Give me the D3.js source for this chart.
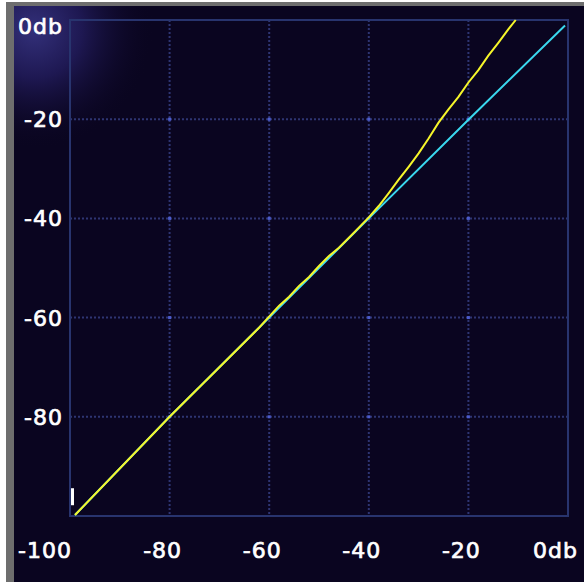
<!DOCTYPE html>
<html>
<head>
<meta charset="utf-8">
<script src="https://cdn.jsdelivr.net/npm/d3@7"></script>
<style>
  html, body { margin: 0; padding: 0; background: #fff; }
  svg { display: block; }
  text { font-family: "DejaVu Sans", sans-serif; font-size: 22px; letter-spacing: 1px; fill: #fff; stroke: #fff; stroke-width: 0.7px; }
</style>
</head>
<body>
<svg id="chart"></svg>
<script>
// Tick values (dB)
const gridTicks = [-80, -60, -40, -20];
const xTickValues = [-100, -80, -60, -40, -20, 0];
const xTickLabels = ["-100", "-80", "-60", "-40", "-20", "0db"];
const yTickValues = [0, -20, -40, -60, -80];
const yTickLabels = ["0db", "-20", "-40", "-60", "-80"];

// Curves: [input dB, output dB]
const linearCurve = [[-99, -99.8], [-80, -80], [-60, -60], [-40, -40], [-20, -20.1], [-0.6, -1.1]];
const expandedCurve = [
  [-99, -99.8], [-80, -80], [-62, -62], [-58, -57.6], [-56, -55.8], [-54, -53.6],
  [-52, -51.8], [-50, -49.6], [-48, -47.6], [-46, -45.9], [-43, -42.9],
  [-40, -39.8], [-38, -37.5], [-36, -34.9], [-34, -32.2], [-32, -29.6],
  [-30, -26.9], [-28, -23.9], [-26, -20.7], [-24, -18.0], [-22, -15.5],
  [-20, -12.6], [-18, -10.1], [-16, -7.2], [-14, -4.6], [-12, -1.9], [-10.5, 0]
];

const width = 584, height = 582;

const svg = d3.select("#chart")
    .attr("width", width)
    .attr("height", height);

const x = d3.scaleLinear().domain([-100, 0]).range([70, 568]);
const y = d3.scaleLinear().domain([0, -100]).range([20, 516]);

// Dim glow in the upper-left corner
const defs = svg.append("defs");
const glow = defs.append("radialGradient")
    .attr("id", "glow")
    .attr("gradientUnits", "userSpaceOnUse")
    .attr("cx", 34).attr("cy", 30).attr("r", 120);
glow.append("stop").attr("offset", "0%").attr("stop-color", "#33307a");
glow.append("stop").attr("offset", "40%").attr("stop-color", "#1e1852");
glow.append("stop").attr("offset", "100%").attr("stop-color", "#0a0520").attr("stop-opacity", 0);

// Window frame
svg.append("rect").attr("x", 0).attr("y", 0).attr("width", width).attr("height", height).attr("fill", "#fff");
svg.append("rect").attr("x", 6).attr("y", 2).attr("width", width - 6).attr("height", height - 2).attr("fill", "#6e6e6e");
svg.append("rect").attr("x", 14).attr("y", 6).attr("width", width - 14).attr("height", height - 6).attr("fill", "#0a0520");
svg.append("rect").attr("x", 14).attr("y", 6).attr("width", 200).attr("height", 200).attr("fill", "url(#glow)");

const g = svg.append("g");

// Dotted grid
g.selectAll("line.vgrid")
  .data(gridTicks)
  .join("line")
    .attr("class", "vgrid")
    .attr("x1", d => x(d)).attr("x2", d => x(d))
    .attr("y1", y(0)).attr("y2", y(-100))
    .attr("stroke", "#2e3572")
    .attr("stroke-width", 2)
    .attr("stroke-dasharray", "2,2");

g.selectAll("line.hgrid")
  .data(gridTicks)
  .join("line")
    .attr("class", "hgrid")
    .attr("y1", d => y(d)).attr("y2", d => y(d))
    .attr("x1", x(-100)).attr("x2", x(0))
    .attr("stroke", "#2e3572")
    .attr("stroke-width", 2)
    .attr("stroke-dasharray", "2,2");

// Brighter dots where grid lines cross
const crossings = d3.cross(gridTicks, gridTicks);
g.selectAll("rect.cross")
  .data(crossings)
  .join("rect")
    .attr("class", "cross")
    .attr("x", d => x(d[0]) - 1.5).attr("y", d => y(d[1]) - 1.5)
    .attr("width", 3).attr("height", 3)
    .attr("fill", "#4c5ccc");

// Plot border
g.append("rect")
    .attr("x", x(-100)).attr("y", y(0))
    .attr("width", x(0) - x(-100)).attr("height", y(-100) - y(0))
    .attr("fill", "none")
    .attr("stroke", "#28346e")
    .attr("stroke-width", 2);

// Curves
const line = d3.line()
    .x(d => x(d[0]))
    .y(d => y(d[1]));

g.append("path")
    .datum(linearCurve)
    .attr("d", line)
    .attr("fill", "none")
    .attr("stroke", "#3ad8ee")
    .attr("stroke-width", 2);

g.append("path")
    .datum(expandedCurve)
    .attr("d", line)
    .attr("fill", "none")
    .attr("stroke", "#f6f62a")
    .attr("stroke-width", 2);

// Small white marker near the origin
g.append("rect")
    .attr("x", x(-100) + 1).attr("y", y(-94.4))
    .attr("width", 3).attr("height", 17)
    .attr("fill", "#fff");

// Y labels
g.selectAll("text.ylab")
  .data(yTickValues)
  .join("text")
    .attr("class", "ylab")
    .attr("x", 63)
    .attr("y", d => d === 0 ? 34 : y(d) + 8)
    .attr("text-anchor", "end")
    .text((d, i) => yTickLabels[i]);

// X labels
g.selectAll("text.xlab")
  .data(xTickValues)
  .join("text")
    .attr("class", "xlab")
    .attr("x", d => d === -100 ? x(d) + 2 : d === 0 ? x(d) + 10 : x(d) - 7)
    .attr("y", 558)
    .attr("text-anchor", d => (d === -100 || d === 0) ? "end" : "middle")
    .text((d, i) => xTickLabels[i]);
</script>
</body>
</html>
